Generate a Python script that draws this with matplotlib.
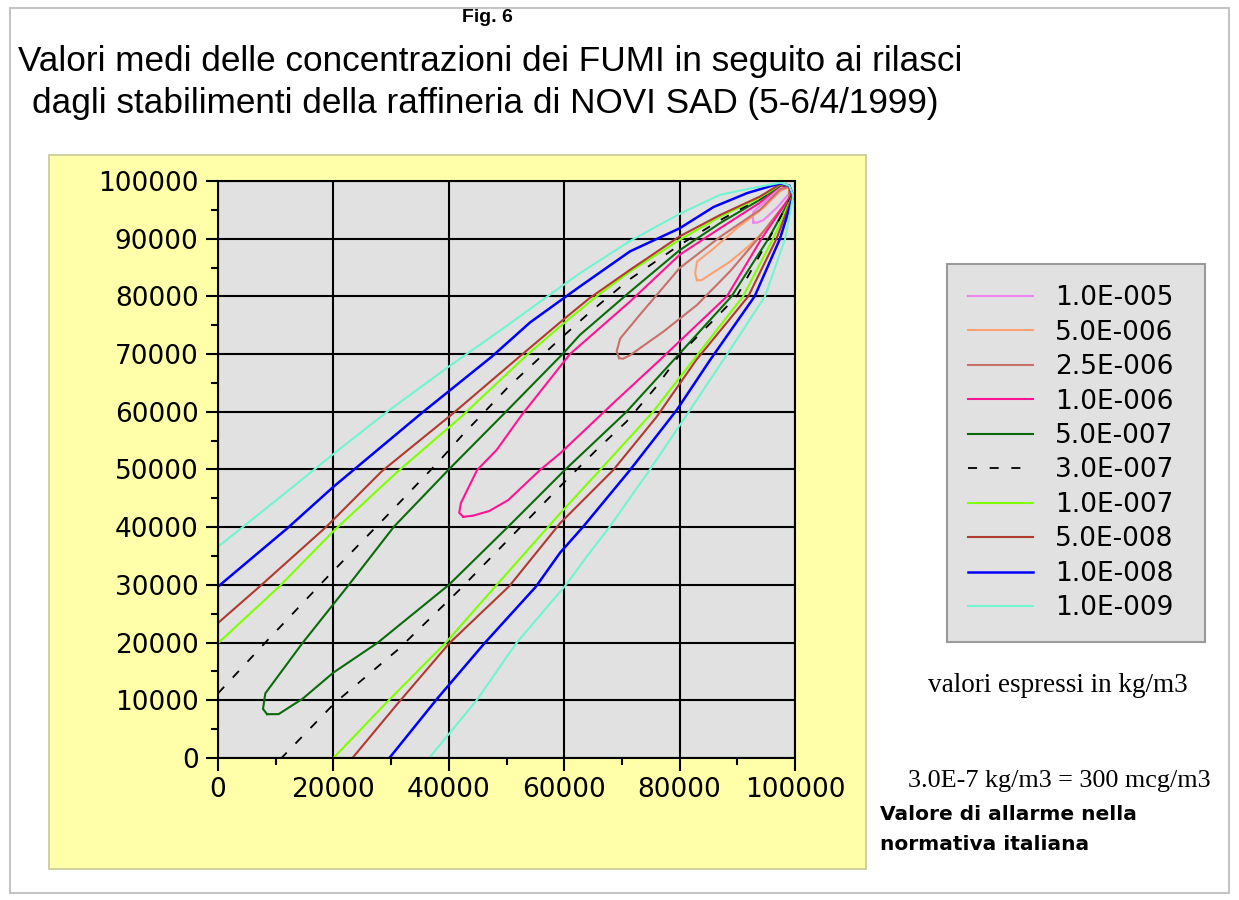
import matplotlib.pyplot as plt
from matplotlib.patches import Rectangle
from matplotlib.ticker import MultipleLocator

# concentration levels (kg/m3) and their line colours
levels = ["1.0E-005", "5.0E-006", "2.5E-006", "1.0E-006", "5.0E-007",
          "3.0E-007", "1.0E-007", "5.0E-008", "1.0E-008", "1.0E-009"]
colors = ["#ee82ee", "#ffa070", "#c8706a", "#ff1493", "#0b6b0b",
          "black", "#7fff00", "#b03a2e", "#0000ff", "#70f5d0"]

# contour paths (upper branch -> apex -> lower branch)
x_1e05 = [92800, 92700, 92800, 95100, 97500, 99000, 98900, 96800, 94500, 93500, 92800]
y_1e05 = [92800, 93800, 94700, 96700, 98700, 99000, 97700, 95300, 93200, 92800, 92800]

x_5e06 = [83000, 82700, 83000, 85900, 89900, 94500, 97500, 99000, 99000, 95700, 92200, 88700, 84700, 83800, 83000]
y_5e06 = [82800, 84000, 86000, 88300, 91800, 95300, 98300, 99000, 97000, 92400, 88900, 86000, 83400, 82800, 82800]

x_25e07 = [69500, 69100, 69700, 73100, 80000, 87000, 93900, 97500, 99000,
           99000, 93400, 88700, 83000, 77200, 71400, 70200, 69500]
y_25e07 = [69300, 70500, 72700, 76800, 84900, 90300, 95000, 98600, 99000,
           97000, 89800, 84300, 78500, 73900, 69800, 69200, 69300]

x_1e06 = [42500, 41800, 42100, 44900, 48300, 52600, 61000, 71400, 80000, 87000, 94000, 97500, 99000,
          99300, 94200, 88200, 76600, 68500, 59300, 55800, 50300, 47000, 44200, 42500]
y_1e06 = [41800, 42500, 44200, 49900, 53400, 59400, 70000, 79100, 87200, 91800, 96300, 99200, 99100,
          97500, 90000, 80000, 69000, 61500, 52800, 49900, 44700, 42800, 42000, 41800]

x_5e07 = [8500, 7800, 8200, 14700, 22900, 30500, 40000, 49600, 59900, 62700, 71400, 80000, 87000, 94000, 97500, 99000,
          99500, 95400, 89000, 79000, 70800, 60100, 50300, 40000, 27700, 20000, 14700, 10500, 8500]
y_5e07 = [7600, 8500, 11200, 20000, 30300, 40100, 50000, 59700, 70200, 73300, 80800, 88000, 92700, 96800, 99300, 99200,
          97500, 90000, 80000, 69000, 60000, 49900, 40100, 30000, 20000, 14800, 10300, 7600, 7600]

x_3e07 = [0, 8200, 18800, 29100, 38000, 42300, 50300, 58700, 64500, 71400, 80000, 87000, 94000, 97500, 99000,
          99500, 95500, 89900, 80100, 76000, 70800, 65600, 60400, 41800, 31200, 20200, 11000]
y_3e07 = [11200, 20000, 31200, 41800, 51100, 55900, 64300, 72100, 77300, 83000, 88900, 93200, 97000, 99300, 99200,
          97500, 90000, 80000, 70000, 64400, 58300, 53400, 48200, 29100, 18800, 9500, 0]

x_1e07 = [0, 10600, 20200, 31200, 42000, 53500, 60000, 65600, 71400, 80000, 87000, 93900, 97500, 99000,
          99600, 96200, 91000, 82400, 75400, 66200, 59300, 48300, 39400, 29100, 20000]
y_1e07 = [19900, 29700, 39500, 49700, 59000, 69800, 75400, 80000, 84300, 89800, 93800, 97100, 99400, 99200,
          97500, 90000, 80000, 69000, 60000, 49900, 42400, 30000, 19900, 9500, 0]

x_5e08 = [0, 7200, 18800, 28400, 40700, 52300, 60000, 64400, 71400, 80000, 87000, 93900, 97500, 99000,
          99600, 96800, 91900, 82900, 76000, 68500, 59300, 50500, 40100, 31200, 23300]
y_5e08 = [23400, 29700, 40100, 49700, 59700, 69600, 76100, 79700, 84600, 90400, 94100, 97300, 99500, 99200,
          97500, 90000, 80000, 69000, 59100, 49900, 40700, 29800, 19900, 9500, 0]

x_1e08 = [0, 12000, 20000, 35200, 47500, 54100, 62700, 71400, 80000, 85900, 91700, 97400, 99000,
          99700, 97400, 93000, 85300, 79500, 71400, 63300, 59300, 55100, 46200, 38000, 29700]
y_1e08 = [29700, 39800, 47000, 59700, 69600, 75500, 81700, 87800, 91800, 95500, 97900, 99600, 99200,
          97400, 90000, 80000, 69000, 60300, 49900, 40100, 35600, 29700, 19900, 10300, 0]

x_1e09 = [0, 10500, 20900, 29700, 40100, 49900, 57100, 62700, 71400, 80000, 87000, 92700, 97500, 99000,
          99700, 98300, 94800, 87600, 81800, 74800, 67900, 63900, 60300, 51700, 44900, 36600]
y_1e09 = [36600, 45000, 53400, 60300, 67900, 74800, 80000, 84000, 89600, 94300, 97600, 98800, 99700, 99200,
          97500, 90000, 80000, 69000, 60300, 49900, 40100, 34900, 30000, 19900, 10100, 0]

paths = [(x_1e05, y_1e05), (x_5e06, y_5e06), (x_25e07, y_25e07), (x_1e06, y_1e06),
         (x_5e07, y_5e07), (x_3e07, y_3e07), (x_1e07, y_1e07), (x_5e08, y_5e08),
         (x_1e08, y_1e08), (x_1e09, y_1e09)]

W, H = 1239, 900
fig = plt.figure(figsize=(W / 100, H / 100), dpi=100)

# outer frame and yellow chart panel (behind the axes)
fig.patches.append(Rectangle((10 / W, 1 - 893 / H), 1219 / W, 885 / H, transform=fig.transFigure,
                             fill=False, ec="#c4c4c4", lw=1.5, zorder=-10))
fig.patches.append(Rectangle((49 / W, 1 - 869 / H), 817 / W, 714 / H, transform=fig.transFigure,
                             fc="#ffffaa", ec="#c8c896", lw=1.2, zorder=-10))

ax = fig.add_axes([218 / W, 1 - 758 / H, 577 / W, 577 / H])
ax.set_facecolor("#e1e1e1")

for (xs, ys), lab, col in zip(paths, levels, colors):
    if lab == "3.0E-007":
        ax.plot(xs, ys, color=col, lw=1.3, ls=(0, (5, 7)), label=lab)
    elif lab == "1.0E-008":
        ax.plot(xs, ys, color=col, lw=1.8, label=lab)
    else:
        ax.plot(xs, ys, color=col, lw=1.5, label=lab)

ax.set_xlim(0, 100000)
ax.set_ylim(0, 100000)
ax.xaxis.set_major_locator(MultipleLocator(20000))
ax.xaxis.set_minor_locator(MultipleLocator(10000))
ax.yaxis.set_major_locator(MultipleLocator(10000))
ax.yaxis.set_minor_locator(MultipleLocator(5000))
ax.set_axisbelow(True)
ax.grid(True, which="major", color="black", lw=1.5)
ax.tick_params(which="major", direction="out", length=9, width=1.5, pad=5,
               labelsize=19, labelfontfamily="DejaVu Sans")
ax.tick_params(which="minor", direction="out", length=5, width=1.5)
for s in ax.spines.values():
    s.set_linewidth(1.5)

leg = ax.legend(loc="upper left", bbox_to_anchor=(947 / W, 1 - 265 / H, 258 / W, 0.001),
                bbox_transform=fig.transFigure, mode="expand",
                prop={"family": "DejaVu Sans", "size": 19}, frameon=True, fancybox=False,
                facecolor="#e1e1e1", edgecolor="#9a9a9a", framealpha=1,
                handlelength=2.45, handletextpad=0.85, borderpad=0.8, labelspacing=0.32,
                borderaxespad=0)
leg.get_frame().set_linewidth(1.5)

# titles and notes
fig.text(487 / W, 1 - 18 / H, "Fig. 6", ha="center", va="center", fontsize=14,
         fontweight="bold", family="Liberation Sans")
fig.text(18 / W, 1 - 62 / H, "Valori medi delle concentrazioni dei FUMI in seguito ai rilasci",
         ha="left", va="center", fontsize=25.3, family="Liberation Sans")
fig.text(32 / W, 1 - 104 / H, "dagli stabilimenti della raffineria di NOVI SAD (5-6/4/1999)",
         ha="left", va="center", fontsize=25.3, family="Liberation Sans")
fig.text(1058 / W, 1 - 686 / H, "valori espressi in kg/m3", ha="center", va="center",
         fontsize=19.5, family="Liberation Serif")
fig.text(1059 / W, 1 - 781 / H, "3.0E-7 kg/m3 = 300 mcg/m3", ha="center", va="center",
         fontsize=18.8, family="Liberation Serif")
fig.text(880 / W, 1 - 814 / H, "Valore di allarme nella", ha="left", va="center",
         fontsize=14.5, fontweight="bold", family="DejaVu Sans")
fig.text(880 / W, 1 - 845 / H, "normativa italiana", ha="left", va="center",
         fontsize=14.5, fontweight="bold", family="DejaVu Sans")

fig.savefig("out.png", dpi=100)
